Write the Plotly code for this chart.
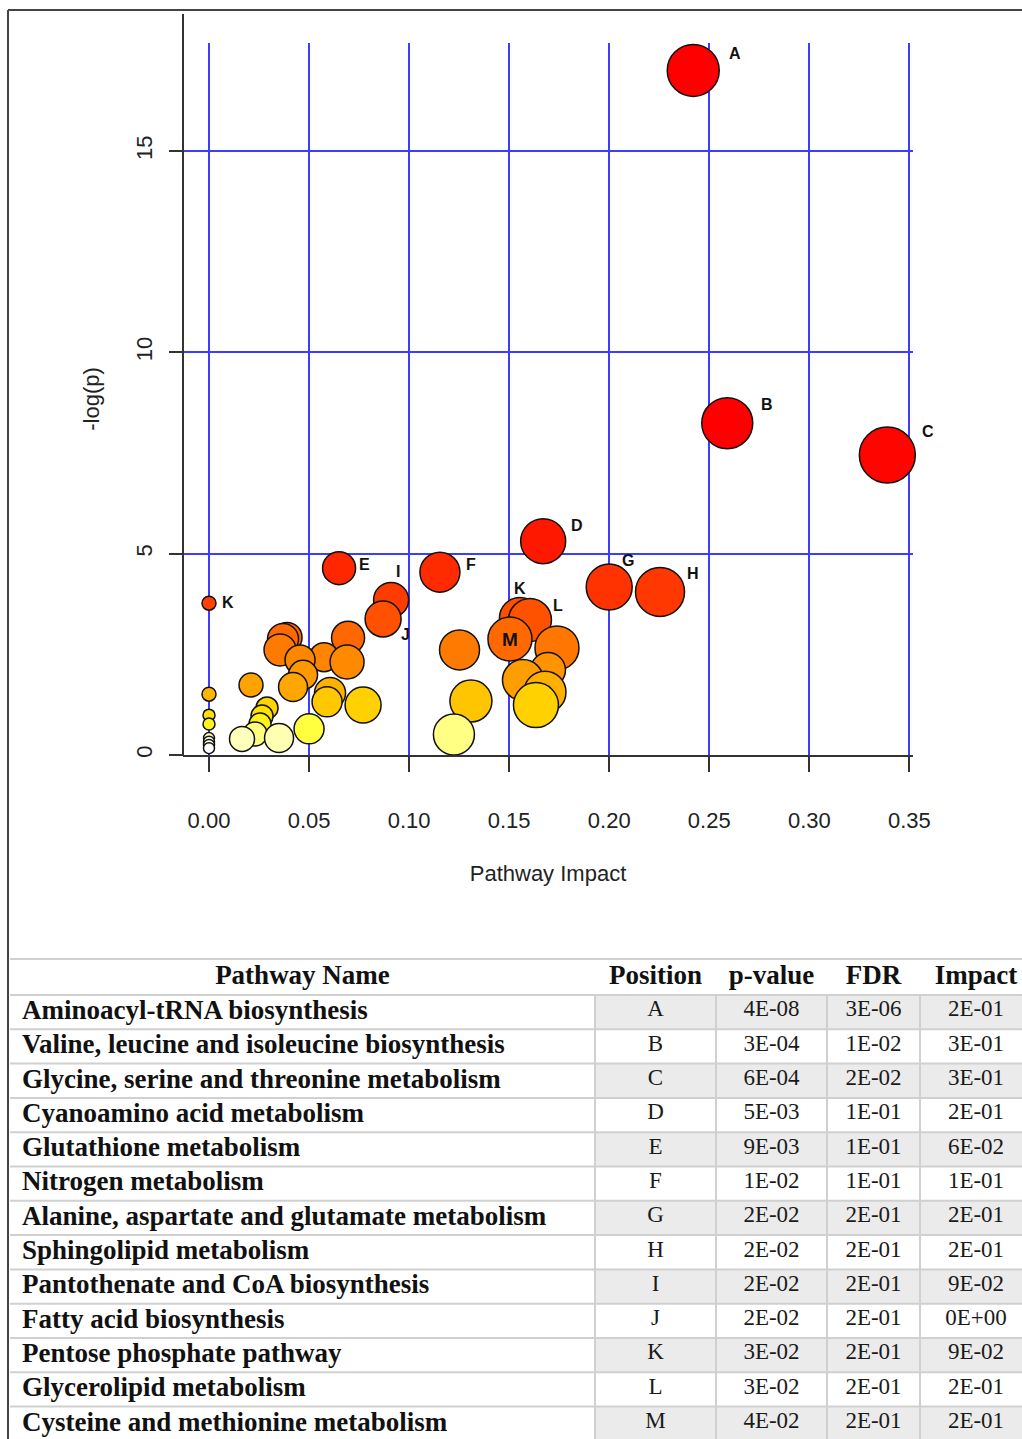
import plotly.graph_objects as go

# ---------------- data: pathway bubbles ----------------
impact = [0.242, 0.259, 0.339, 0.167, 0.065, 0.1154, 0.200, 0.2254, 0.091, 0.000,
          0.1554, 0.087, 0.1604, 0.039, 0.037, 0.0695, 0.1504, 0.1739, 0.0355, 0.1252,
          0.0575, 0.0455, 0.069, 0.1694, 0.047, 0.1569, 0.021, 0.042, 0.1679, 0.0605,
          0.000, 0.1309, 0.059, 0.1634, 0.077, 0.029, 0.000, 0.0265, 0.0255, 0.000,
          0.050, 0.023, 0.1224, 0.035, 0.0165, 0.000, 0.000, 0.000, 0.000]
neg_log_p = [17.00, 8.24, 7.45, 5.31, 4.64, 4.54, 4.17, 4.05, 3.85, 3.77,
             3.40, 3.38, 3.35, 2.92, 2.88, 2.91, 2.88, 2.66, 2.61, 2.61,
             2.43, 2.36, 2.31, 2.11, 1.99, 1.86, 1.74, 1.69, 1.56, 1.54,
             1.51, 1.34, 1.32, 1.24, 1.24, 1.17, 0.99, 0.97, 0.77, 0.77,
             0.65, 0.52, 0.51, 0.42, 0.40, 0.42, 0.33, 0.25, 0.17]
bubble_size = [52, 51, 56, 45, 33, 40, 46, 49, 35, 14,
               41, 36, 43, 30, 31, 33, 44, 44, 32, 40,
               29, 30, 34, 35, 29, 41, 24, 29, 42, 31,
               14, 42, 30, 45, 36, 22, 12, 22, 22, 12,
               30, 24, 41, 29, 25, 11, 11, 11, 11]
point_label = ['A', 'B', 'C', 'D', 'E', 'F', 'G', 'H', 'I', 'K',
               'K', 'J', 'L', '', '', '', 'M', '', '', '',
               '', '', '', '', '', '', '', '', '', '',
               '', '', '', '', '', '', '', '', '', '',
               '', '', '', '', '', '', '', '', '']

x_ticks = [0.00, 0.05, 0.10, 0.15, 0.20, 0.25, 0.30, 0.35]
x_tick_text = ['0.00', '0.05', '0.10', '0.15', '0.20', '0.25', '0.30', '0.35']
y_ticks = [0, 5, 10, 15]
y_tick_text = ['0', '5', '10', '15']

# ---------------- data: table ----------------
pathway_names = ['Aminoacyl-tRNA biosynthesis',
                 'Valine, leucine and isoleucine biosynthesis',
                 'Glycine, serine and threonine metabolism',
                 'Cyanoamino acid metabolism',
                 'Glutathione metabolism',
                 'Nitrogen metabolism',
                 'Alanine, aspartate and glutamate metabolism',
                 'Sphingolipid metabolism',
                 'Pantothenate and CoA biosynthesis',
                 'Fatty acid biosynthesis',
                 'Pentose phosphate pathway',
                 'Glycerolipid metabolism',
                 'Cysteine and methionine metabolism']
positions = ['A', 'B', 'C', 'D', 'E', 'F', 'G', 'H', 'I', 'J', 'K', 'L', 'M']
p_values = ['4E-08', '3E-04', '6E-04', '5E-03', '9E-03', '1E-02', '2E-02',
            '2E-02', '2E-02', '2E-02', '3E-02', '3E-02', '4E-02']
fdr_values = ['3E-06', '1E-02', '2E-02', '1E-01', '1E-01', '1E-01', '2E-01',
              '2E-01', '2E-01', '2E-01', '2E-01', '2E-01', '2E-01']
impact_values = ['2E-01', '3E-01', '3E-01', '2E-01', '6E-02', '1E-01', '2E-01',
                 '2E-01', '9E-02', '0E+00', '9E-02', '2E-01', '2E-01']
table_headers = ['Pathway Name', 'Position', 'p-value', 'FDR', 'Impact']

# ---------------- styling ----------------
W, H = 1022, 1439
def px_x(p):
    return p / W
def px_y(p):
    return 1 - p / H

heat_stops = [(0.0, '#ffffff'), (0.17, '#ffffff'), (0.35, '#ffffd8'), (0.45, '#ffffa0'),
              (0.65, '#ffff40'), (0.8, '#ffee10'), (1.0, '#ffe000'), (1.25, '#ffd000'),
              (1.35, '#ffc400'), (1.55, '#ffb000'), (1.75, '#ffa200'), (2.0, '#ff9900'),
              (2.35, '#ff8800'), (2.65, '#ff7800'), (2.9, '#ff6800'), (3.4, '#ff5000'),
              (3.85, '#ff3c00'), (4.6, '#ff2800'), (5.3, '#ff1800'), (8.0, '#ff0000'),
              (17.1, '#ff0000')]
cmax = 17.1
colorscale = [[v / cmax, c] for v, c in heat_stops]

label_shift = {0: (42, 17), 1: (40, 19), 2: (41, 23), 3: (34, 16), 4: (25, 4),
               5: (31, 8), 6: (19, 27), 7: (33, 18), 8: (7, 28), 9: (19, 1),
               10: (0, 30), 11: (22, -16), 12: (28, 15), 16: (0, 0)}

sans = 'Liberation Sans, Arial, sans-serif'
serif = 'Liberation Serif, Times New Roman, serif'

# table geometry (page pixels)
col_edges = [10, 595, 716, 827, 920, 1032]
header_top, header_bottom, row_h = 959, 995, 34.3
n_rows = len(pathway_names)
row_edges = [header_top, header_bottom] + [header_bottom + row_h * (k + 1) for k in range(n_rows)]
line_col = '#d0d0d0'

fig = go.Figure()

# ---- bubble chart ----
fig.add_trace(go.Scatter(
    x=impact, y=neg_log_p, mode='markers',
    marker=dict(size=bubble_size, color=neg_log_p, colorscale=colorscale,
                cmin=0, cmax=cmax, line=dict(color='#111111', width=1.5),
                opacity=1),
    cliponaxis=False, showlegend=False, hoverinfo='skip',
    xaxis='x', yaxis='y'))

annotations = []
for i, lab in enumerate(point_label):
    if not lab:
        continue
    dx, dy = label_shift.get(i, (20, 10))
    annotations.append(dict(x=impact[i], y=neg_log_p[i], xref='x', yref='y',
                            text=f'<b>{lab}</b>', showarrow=False,
                            xshift=dx, yshift=dy,
                            font=dict(family=sans, size=16 if i != 16 else 19,
                                      color='#111111')))

# ---- table: cell fills as a heatmap ----
z = [[0, 0, 0, 0, 0]]
for k in range(n_rows):
    shade = 1 if k % 2 == 0 else 0
    z.append([0, shade, shade, shade, shade])
fig.add_trace(go.Heatmap(
    x=col_edges, y=row_edges, z=z, zmin=0, zmax=1,
    colorscale=[[0, '#ffffff'], [1, '#ebebeb']], showscale=False,
    hoverinfo='skip', xaxis='x2', yaxis='y2'))

# ---- table: texts ----
col_centers = [(col_edges[j] + col_edges[j + 1]) / 2 for j in range(5)]
header_mid = (header_top + header_bottom) / 2
row_mid = [(row_edges[k + 1] + row_edges[k + 2]) / 2 for k in range(n_rows)]

fig.add_trace(go.Scatter(
    x=col_centers, y=[header_mid] * 5, mode='text',
    text=[f'<b>{h}</b>' for h in table_headers], textposition='middle center',
    textfont=dict(family=serif, size=27, color='#111111'),
    hoverinfo='skip', showlegend=False, cliponaxis=False,
    xaxis='x2', yaxis='y2'))

fig.add_trace(go.Scatter(
    x=[col_edges[0] + 12] * n_rows, y=row_mid, mode='text',
    text=[f'<b>{s}</b>' for s in pathway_names], textposition='middle right',
    textfont=dict(family=serif, size=27, color='#111111'),
    hoverinfo='skip', showlegend=False, cliponaxis=False,
    xaxis='x2', yaxis='y2'))

for j, col in enumerate([positions, p_values, fdr_values, impact_values]):
    fig.add_trace(go.Scatter(
        x=[col_centers[j + 1]] * n_rows, y=[m - 1.5 for m in row_mid], mode='text',
        text=col, textposition='middle center',
        textfont=dict(family=serif, size=23, color='#1a1a1a'),
        hoverinfo='skip', showlegend=False, cliponaxis=False,
        xaxis='x2', yaxis='y2'))

# ---- lines ----
shapes = []
for yv in row_edges:
    shapes.append(dict(type='line', xref='x2', yref='y2', x0=col_edges[0], x1=W,
                       y0=yv, y1=yv, line=dict(color=line_col, width=2), layer='above'))
for xv in col_edges[1:-1]:
    shapes.append(dict(type='line', xref='x2', yref='y2', x0=xv, x1=xv,
                       y0=header_bottom, y1=H, line=dict(color=line_col, width=2),
                       layer='above'))
shapes += [
    dict(type='line', xref='paper', yref='paper', x0=px_x(183), x1=px_x(183),
         y0=px_y(756), y1=px_y(14), line=dict(color='#333333', width=2)),
    dict(type='line', xref='paper', yref='paper', x0=px_x(8), x1=px_x(8),
         y0=0, y1=px_y(10), line=dict(color='#444444', width=2)),
    dict(type='line', xref='paper', yref='paper', x0=px_x(8), x1=1,
         y0=px_y(10), y1=px_y(10), line=dict(color='#444444', width=2)),
]

grid_col = '#3d3dff'
fig.update_layout(
    width=W, height=H, autosize=False,
    margin=dict(l=0, r=0, t=0, b=0),
    paper_bgcolor='white', plot_bgcolor='white',
    font=dict(family=sans, color='#222222'),
    xaxis=dict(domain=[px_x(183), px_x(913)], range=[-26 / 2001, 704 / 2001],
               tickvals=x_ticks, ticktext=x_tick_text,
               showgrid=True, gridcolor=grid_col, gridwidth=2, zeroline=False,
               showline=True, linecolor='#333333', linewidth=2,
               ticks='outside', ticklen=15, tickwidth=1.5, tickcolor='#333333',
               tickfont=dict(family=sans, size=22, color='#222222'),
               ticklabelstandoff=30,
               title=dict(text='Pathway Impact', standoff=33,
                          font=dict(family=sans, size=22, color='#222222')),
               automargin=False, fixedrange=True),
    yaxis=dict(domain=[px_y(755), px_y(43)], range=[0, 712 / 40.27],
               tickvals=y_ticks, ticktext=y_tick_text, tickangle=-90,
               showgrid=True, gridcolor=grid_col, gridwidth=2, zeroline=False,
               showline=False,
               ticks='outside', ticklen=13, tickwidth=1.5, tickcolor='#333333',
               tickfont=dict(family=sans, size=22, color='#222222'),
               ticklabelstandoff=8,
               title=dict(text='-log(p)', standoff=26,
                          font=dict(family=sans, size=22, color='#222222')),
               automargin=False, fixedrange=True),
    xaxis2=dict(domain=[0, 1], range=[0, W], visible=False, fixedrange=True),
    yaxis2=dict(domain=[0, px_y(945)], range=[H, 945], visible=False,
                fixedrange=True),
    annotations=annotations,
    shapes=shapes,
)

fig.write_html('out.html', config={'displayModeBar': False},
               post_script="document.body.style.margin='0';"
                           "document.body.style.overflow='hidden';")
